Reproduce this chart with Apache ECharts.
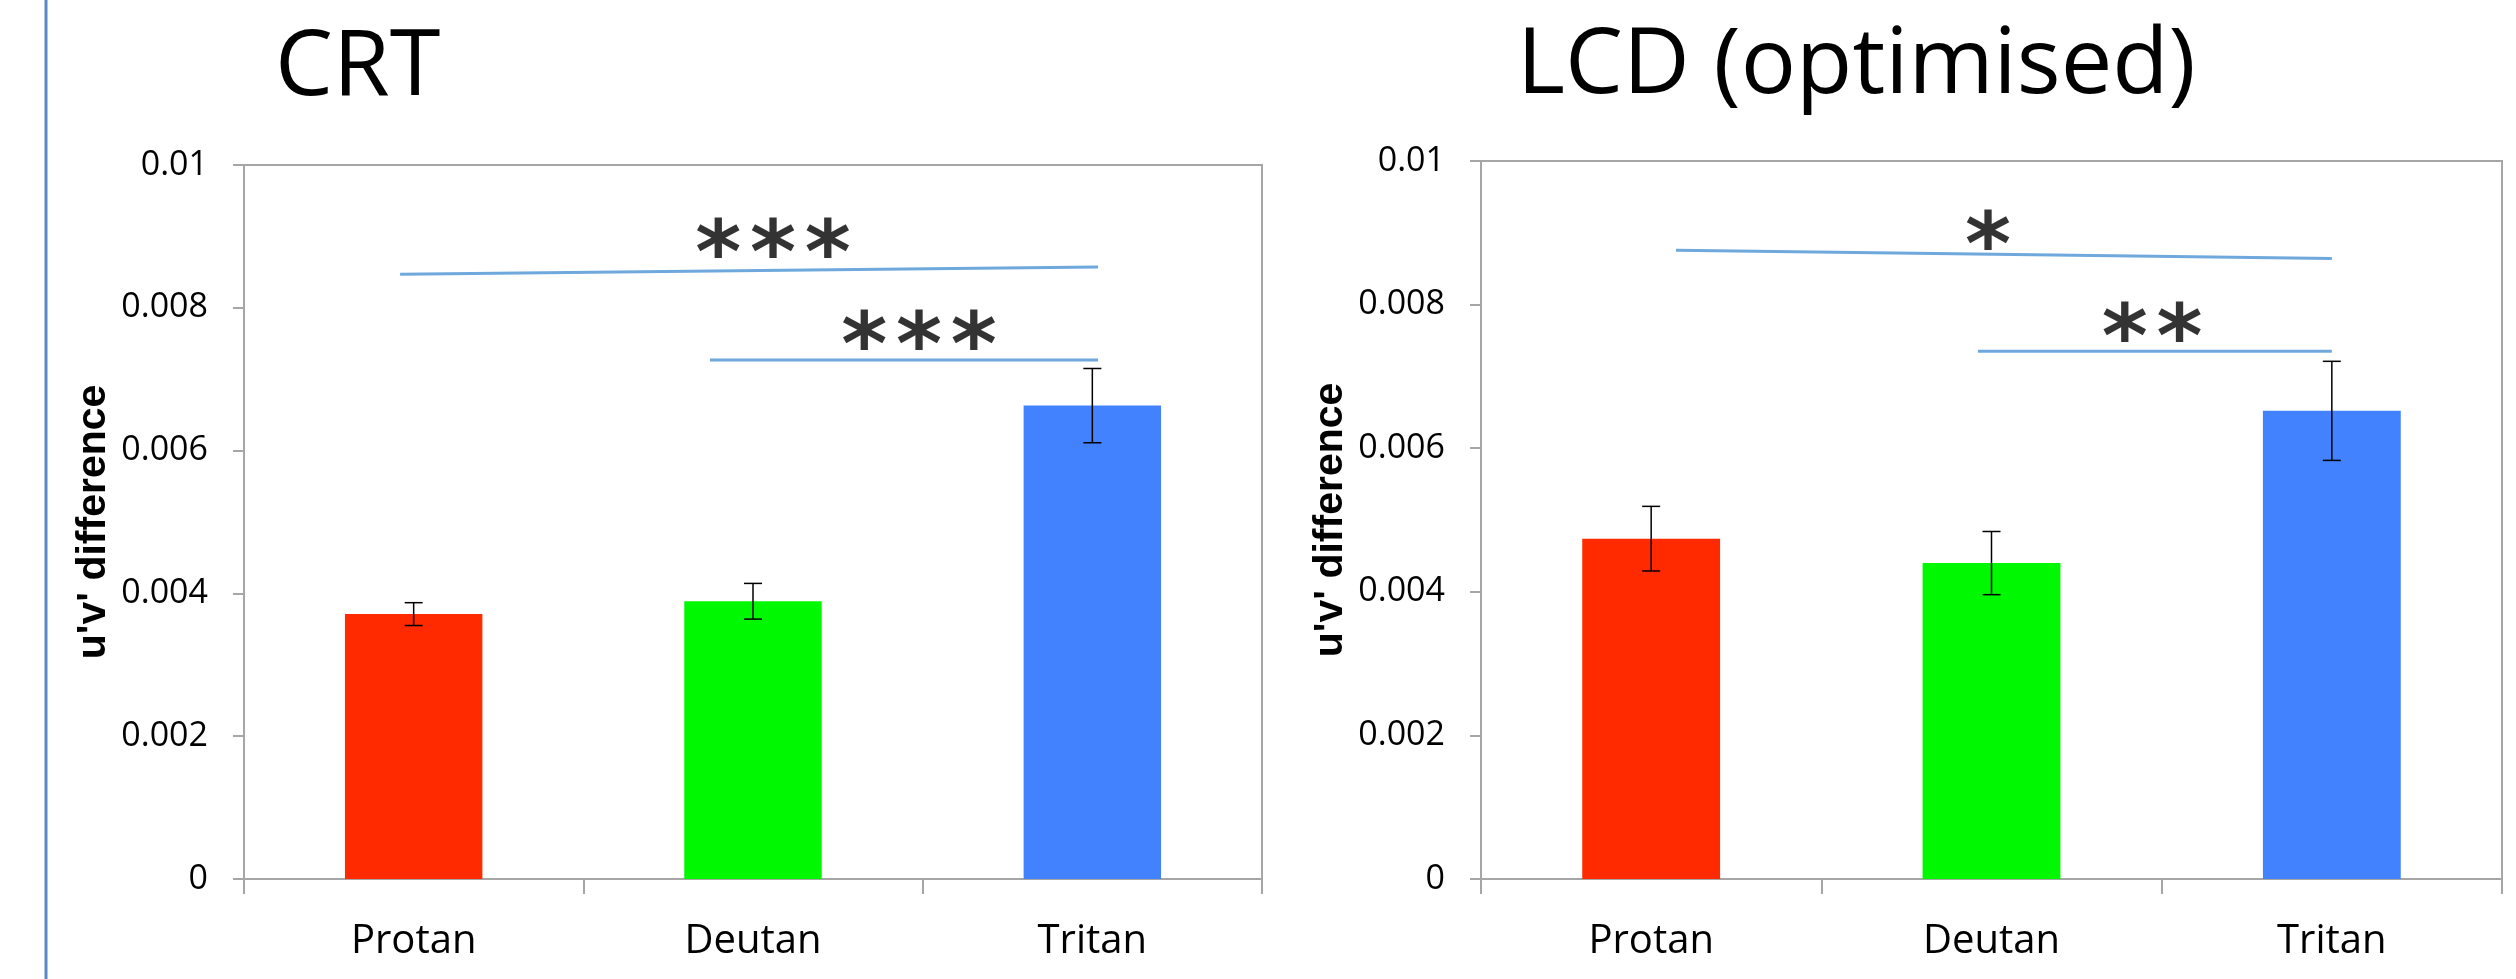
<!DOCTYPE html>
<html>
<head>
<meta charset="utf-8">
<script src="https://cdn.jsdelivr.net/npm/echarts@6/dist/echarts.min.js"></script>
<style>
html,body{margin:0;padding:0;background:#fff;}
#c{width:2516px;height:979px;}
</style>
</head>
<body>
<div id="c"></div>
<script>
// ---- data ----
const categories = ['Protan', 'Deutan', 'Tritan'];
const barColors = ['#ff2a00', '#00f900', '#4282ff'];
const yTickLabels = ['0', '0.002', '0.004', '0.006', '0.008', '0.01'];

const crtTitle = 'CRT';
const crtMeans = [0.00371, 0.00389, 0.00663];
const crtErr = [0.00016, 0.00025, 0.00052];
// significance brackets: [[xStart, yStart], [xEnd, yEnd]] (x in category units)
const crtBrackets = [
  [[-0.04, 0.00847], [2.017, 0.00857]],
  [[0.873, 0.00727], [2.017, 0.00727]]
];
const crtStars = [[1.059, 0.00894, '***'], [1.489, 0.00765, '***']];

const lcdTitle = 'LCD (optimised)';
const lcdMeans = [0.00474, 0.00440, 0.00652];
const lcdErr = [0.00045, 0.00044, 0.00069];
const lcdBrackets = [
  [[0.073, 0.008756], [2.0, 0.008643]],
  [[0.96, 0.00735], [2.0, 0.00735]]
];
const lcdStars = [[0.99, 0.00900, '*'], [1.472, 0.00772, '**']];

const yAxisName = "u'v' difference";

// ---- styles ----
const axisGray = '#a6a6a6';
const bracketColor = '#6fa8dc';
const sansFont = '"Open Sans", "Noto Sans", sans-serif';

const chart = echarts.init(document.getElementById('c'), null, {renderer: 'canvas'});

const grids = [
  {left: 244, top: 165, width: 1018, height: 714},
  {left: 1481, top: 161, width: 1021, height: 718}
];

function catAxis(gi) {
  return {
    type: 'category', gridIndex: gi, data: categories, boundaryGap: true,
    axisLine: {show: true, onZero: false, lineStyle: {color: axisGray, width: 2}},
    axisTick: {show: true, length: 15, lineStyle: {color: axisGray, width: 2}},
    axisLabel: {color: '#000', fontFamily: sansFont, fontSize: 40, lineHeight: 40, margin: 43}
  };
}
function valXAxis(gi) {
  return {type: 'value', gridIndex: gi, min: -0.5, max: 2.5, show: false,
    axisLine: {show: false, onZero: false}, splitLine: {show: false}};
}
function yAxis(gi) {
  return {
    type: 'value', gridIndex: gi, min: 0, max: 0.01, interval: 0.002,
    name: yAxisName, nameLocation: 'middle', nameGap: 130,
    nameTextStyle: {color: '#000', fontFamily: '"Liberation Sans", Arial, sans-serif', fontWeight: 'bold', fontSize: 41, lineHeight: 41},
    axisLine: {show: true, onZero: false, lineStyle: {color: axisGray, width: 2}},
    axisTick: {show: true, length: 11, lineStyle: {color: axisGray, width: 2}},
    splitLine: {show: false},
    axisLabel: {
      color: '#000', fontFamily: sansFont, fontSize: 34, margin: 36,
      formatter: function (v) { return yTickLabels[Math.round(v / 0.002)]; }
    }
  };
}

function barSeries(gi, means) {
  return {
    type: 'bar', xAxisIndex: gi, yAxisIndex: gi, barWidth: '40.5%', z: 2,
    data: means.map((v, i) => ({value: v, itemStyle: {color: barColors[i]}})),
    silent: true, animation: false
  };
}
function errSeries(gi, means, errs) {
  return {
    type: 'custom', xAxisIndex: gi, yAxisIndex: gi, animation: false, silent: true, z: 4,
    data: means.map((m, i) => [i, m - errs[i], m + errs[i]]),
    renderItem: function (params, api) {
      const lo = api.coord([api.value(0), api.value(1)]);
      const hi = api.coord([api.value(0), api.value(2)]);
      const hw = 9;
      const st = {stroke: '#000', lineWidth: 1.5};
      return {
        type: 'group', children: [
          {type: 'line', shape: {x1: hi[0], y1: hi[1], x2: lo[0], y2: lo[1]}, style: st},
          {type: 'line', shape: {x1: hi[0] - hw, y1: hi[1], x2: hi[0] + hw, y2: hi[1]}, style: st},
          {type: 'line', shape: {x1: lo[0] - hw, y1: lo[1], x2: lo[0] + hw, y2: lo[1]}, style: st}
        ]
      };
    }
  };
}
function bracketSeries(gi, brackets) {
  return brackets.map(b => ({
    type: 'line', xAxisIndex: gi + 2, yAxisIndex: gi, data: b, symbol: 'none',
    lineStyle: {color: bracketColor, width: 3}, silent: true, animation: false, z: 5
  }));
}
function starSeries(gi, stars) {
  return {
    type: 'scatter', xAxisIndex: gi + 2, yAxisIndex: gi, symbolSize: 0, silent: true, animation: false, z: 6,
    data: stars.map(s => ({value: [s[0], s[1]], label: {formatter: s[2].split('').join('\u200A')}})),
    label: {
      show: true, position: 'inside', color: '#000',
      fontFamily: '"DejaVu Sans", sans-serif', fontWeight: 'bold', fontSize: 88, lineHeight: 88,
      align: 'center', verticalAlign: 'middle', offset: [0, 18]
    }
  };
}

const option = {
  backgroundColor: '#fff',
  animation: false,
  title: [
    {text: crtTitle, left: 270, top: 18, textStyle: {color: '#000', fontFamily: sansFont, fontWeight: 'normal', fontSize: 92, lineHeight: 92}},
    {text: lcdTitle, left: 1512, top: 16, textStyle: {color: '#000', fontFamily: sansFont, fontWeight: 'normal', fontSize: 92, lineHeight: 92}}
  ],
  grid: grids.map(g => Object.assign({show: true, borderColor: axisGray, borderWidth: 2, backgroundColor: 'transparent'}, g)),
  xAxis: [catAxis(0), catAxis(1), valXAxis(0), valXAxis(1)],
  yAxis: [yAxis(0), yAxis(1)],
  graphic: [
    {type: 'line', shape: {x1: 46, y1: 0, x2: 46, y2: 979}, style: {stroke: '#5a8ac6', lineWidth: 3}}
  ],
  series: [
    barSeries(0, crtMeans), errSeries(0, crtMeans, crtErr),
    ...bracketSeries(0, crtBrackets), starSeries(0, crtStars),
    barSeries(1, lcdMeans), errSeries(1, lcdMeans, lcdErr),
    ...bracketSeries(1, lcdBrackets), starSeries(1, lcdStars)
  ]
};
chart.setOption(option);
</script>
</body>
</html>
